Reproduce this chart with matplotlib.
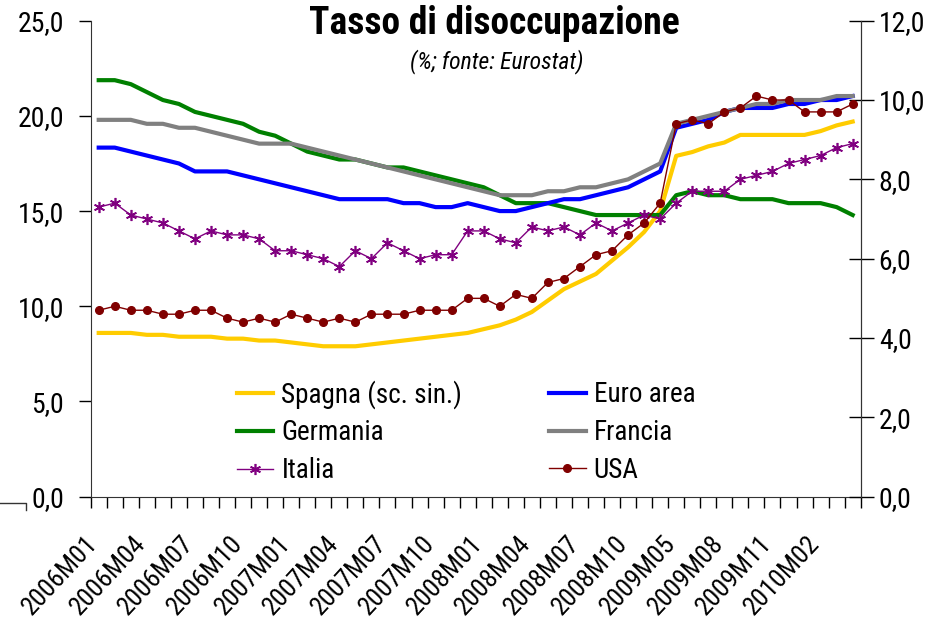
import numpy as np
import matplotlib
matplotlib.use("Agg")
import matplotlib.pyplot as plt
import matplotlib.transforms as mtransforms
from matplotlib.lines import Line2D
from matplotlib.ticker import FixedLocator, FuncFormatter

plt.rcParams['font.family'] = ['Roboto Condensed', 'Liberation Sans', 'DejaVu Sans']

# mesi (2009M01-M04 mancano nella serie originale)
mesi = ["2006M01", "2006M02", "2006M03", "2006M04", "2006M05", "2006M06",
        "2006M07", "2006M08", "2006M09", "2006M10", "2006M11", "2006M12",
        "2007M01", "2007M02", "2007M03", "2007M04", "2007M05", "2007M06",
        "2007M07", "2007M08", "2007M09", "2007M10", "2007M11", "2007M12",
        "2008M01", "2008M02", "2008M03", "2008M04", "2008M05", "2008M06",
        "2008M07", "2008M08", "2008M09", "2008M10", "2008M11", "2008M12",
        "2009M05", "2009M06", "2009M07", "2009M08", "2009M09", "2009M10",
        "2009M11", "2009M12", "2010M01", "2010M02", "2010M03", "2010M04"]

# asse sinistro
spagna = [8.6, 8.6, 8.6, 8.5, 8.5, 8.4, 8.4, 8.4, 8.3, 8.3, 8.2, 8.2,
          8.1, 8.0, 7.9, 7.9, 7.9, 8.0, 8.1, 8.2, 8.3, 8.4, 8.5, 8.6,
          8.8, 9.0, 9.3, 9.7, 10.3, 10.9, 11.3, 11.7, 12.4, 13.1, 13.9, 15.0,
          17.9, 18.1, 18.4, 18.6, 19.0, 19.0, 19.0, 19.0, 19.0, 19.2, 19.5, 19.7]

# asse destro
euro = [8.8, 8.8, 8.7, 8.6, 8.5, 8.4, 8.2, 8.2, 8.2, 8.1, 8.0, 7.9,
        7.8, 7.7, 7.6, 7.5, 7.5, 7.5, 7.5, 7.4, 7.4, 7.3, 7.3, 7.4,
        7.3, 7.2, 7.2, 7.3, 7.4, 7.5, 7.5, 7.6, 7.7, 7.8, 8.0, 8.2,
        9.3, 9.4, 9.5, 9.7, 9.8, 9.8, 9.8, 9.9, 9.9, 10.0, 10.0, 10.1]
germania = [10.5, 10.5, 10.4, 10.2, 10.0, 9.9, 9.7, 9.6, 9.5, 9.4, 9.2, 9.1,
            8.9, 8.7, 8.6, 8.5, 8.5, 8.4, 8.3, 8.3, 8.2, 8.1, 8.0, 7.9,
            7.8, 7.6, 7.4, 7.4, 7.4, 7.3, 7.2, 7.1, 7.1, 7.1, 7.1, 7.1,
            7.6, 7.7, 7.6, 7.6, 7.5, 7.5, 7.5, 7.4, 7.4, 7.4, 7.3, 7.1]
francia = [9.5, 9.5, 9.5, 9.4, 9.4, 9.3, 9.3, 9.2, 9.1, 9.0, 8.9, 8.9,
           8.9, 8.8, 8.7, 8.6, 8.5, 8.4, 8.3, 8.2, 8.1, 8.0, 7.9, 7.8,
           7.7, 7.6, 7.6, 7.6, 7.7, 7.7, 7.8, 7.8, 7.9, 8.0, 8.2, 8.4,
           9.4, 9.5, 9.6, 9.7, 9.8, 9.9, 9.9, 10.0, 10.0, 10.0, 10.1, 10.1]
italia = [7.3, 7.4, 7.1, 7.0, 6.9, 6.7, 6.5, 6.7, 6.6, 6.6, 6.5, 6.2,
          6.2, 6.1, 6.0, 5.8, 6.2, 6.0, 6.4, 6.2, 6.0, 6.1, 6.1, 6.7,
          6.7, 6.5, 6.4, 6.8, 6.7, 6.8, 6.6, 6.9, 6.7, 6.9, 7.1, 7.0,
          7.4, 7.7, 7.7, 7.7, 8.0, 8.1, 8.2, 8.4, 8.5, 8.6, 8.8, 8.9]
usa = [4.7, 4.8, 4.7, 4.7, 4.6, 4.6, 4.7, 4.7, 4.5, 4.4, 4.5, 4.4,
       4.6, 4.5, 4.4, 4.5, 4.4, 4.6, 4.6, 4.6, 4.7, 4.7, 4.7, 5.0,
       5.0, 4.8, 5.1, 5.0, 5.4, 5.5, 5.8, 6.1, 6.2, 6.6, 6.9, 7.4,
       9.4, 9.5, 9.4, 9.7, 9.8, 10.1, 10.0, 10.0, 9.7, 9.7, 9.7, 9.9]

x = np.arange(len(mesi))
virgola = FuncFormatter(lambda v, p: f"{v:.1f}".replace(".", ","))

fig = plt.figure(figsize=(9.33, 6.21), dpi=100)
ax = fig.add_axes([0.0972, 0.2002, 0.8253, 0.7665])
ax2 = ax.twinx()

l_spa, = ax.plot(x, spagna, color="#FFCC00", lw=3, label="Spagna (sc. sin.)")
l_ger, = ax2.plot(x, germania, color="#008000", lw=3, label="Germania")
l_eur, = ax2.plot(x, euro, color="#0000FF", lw=3, label="Euro area")
l_fra, = ax2.plot(x, francia, color="#808080", lw=3, label="Francia")
l_ita, = ax2.plot(x, italia, color="#800080", lw=1, marker=(6, 2, 0), ms=8,
                  mew=1.2, label="Italia")
l_usa, = ax2.plot(x, usa, color="#800000", lw=1, marker="o", ms=5.5, label="USA")

ax.set_xlim(-0.5, len(mesi) - 0.5)
ax.set_ylim(0, 25)
ax2.set_ylim(0, 12)
ax.set_yticks(np.arange(0, 26, 5))
ax2.set_yticks(np.arange(0, 13, 2))
ax.yaxis.set_major_formatter(virgola)
ax2.yaxis.set_major_formatter(virgola)

# etichette ogni 3 mesi, tacche tra le categorie
pos = x[::3]
ax.xaxis.set_major_locator(FixedLocator(pos))
ax.set_xticklabels([mesi[i] for i in pos], rotation=47, ha="right", va="center",
                   rotation_mode="anchor", fontsize=19)
ax.xaxis.set_minor_locator(FixedLocator(np.arange(-0.5, len(mesi), 1)))
ax.tick_params(axis="x", which="major", length=0, pad=31)
ax.tick_params(axis="x", which="minor", length=8, direction="out", width=1)
off = mtransforms.ScaledTranslation(-5 / 100, 0, fig.dpi_scale_trans)
for lab in ax.get_xticklabels():
    lab.set_transform(lab.get_transform() + off)

ax.tick_params(axis="y", direction="out", length=9, width=1, labelsize=20, pad=10)
ax2.tick_params(axis="y", direction="inout", length=18, width=1, labelsize=20, pad=4)

for a in (ax, ax2):
    a.spines["top"].set_visible(False)
    for s in a.spines.values():
        s.set_color("#333333")
ax2.spines["left"].set_visible(False)
ax2.spines["bottom"].set_visible(False)

ax2.legend(handles=[l_spa, l_ger, l_ita, l_eur, l_fra, l_usa], ncol=2,
           loc="center", bbox_to_anchor=(466 / 933, 1 - 432 / 621),
           bbox_transform=fig.transFigure, frameon=False, fontsize=19.5,
           handlelength=1.35, handletextpad=0.3, columnspacing=3.2,
           labelspacing=0.4, borderpad=0)

fig.text(494 / 933, 1 - 23 / 621, "Tasso di disoccupazione", ha="center",
         va="center", fontsize=27, fontweight="bold")
fig.text(497 / 933, 1 - 62 / 621, "(%; fonte: Eurostat)", ha="center",
         va="center", fontsize=17, style="italic")

# piccolo segno in basso a sinistra
fig.add_artist(Line2D([0, 26 / 933, 26 / 933], [1 - 503 / 621, 1 - 503 / 621, 1 - 510 / 621],
                      color="#333333", lw=1, transform=fig.transFigure))

fig.savefig("out.png", dpi=100)
